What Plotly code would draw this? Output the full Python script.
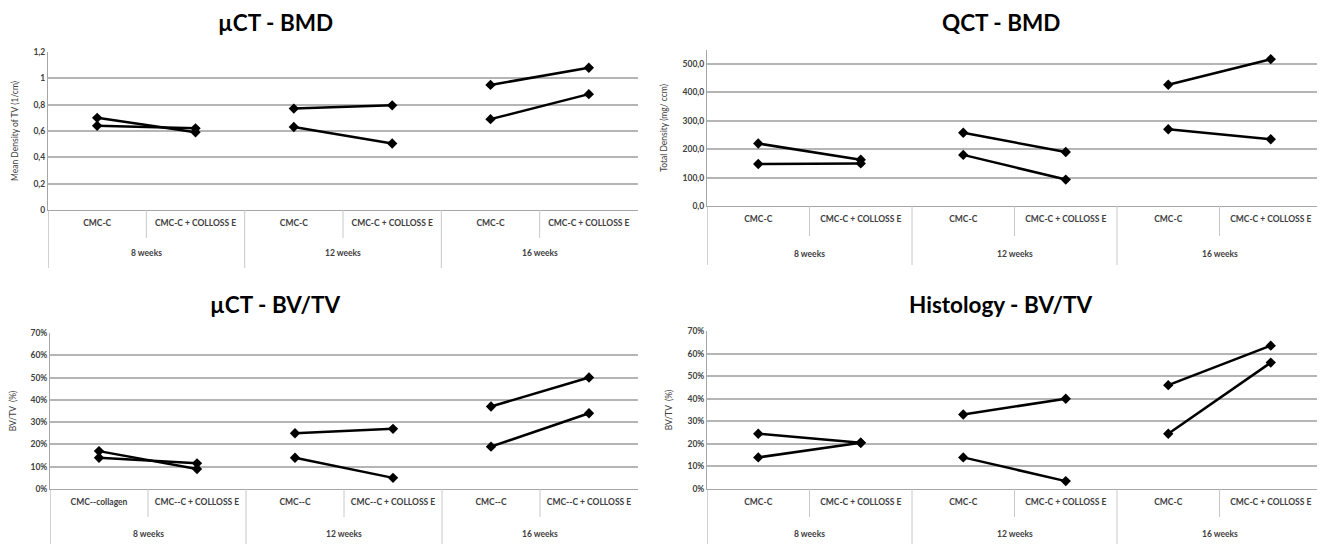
import plotly.graph_objects as go

# ---------------- data ----------------
groups = ["8 weeks", "12 weeks", "16 weeks"]
cats_std = ["CMC-C", "CMC-C + COLLOSS E", "CMC-C", "CMC-C + COLLOSS E", "CMC-C", "CMC-C + COLLOSS E"]
cats_uct_bvtv = ["CMC--collagen", "CMC--C + COLLOSS E", "CMC--C", "CMC--C + COLLOSS E", "CMC--C", "CMC--C + COLLOSS E"]

uct_bmd_a = [0.70, 0.59, 0.77, 0.795, 0.95, 1.08]
uct_bmd_b = [0.64, 0.62, 0.63, 0.505, 0.69, 0.88]
qct_bmd_a = [220, 163, 258, 190, 427, 517]
qct_bmd_b = [148, 150, 180, 93, 270, 235]
uct_bvtv_a = [0.17, 0.09, 0.25, 0.27, 0.37, 0.50]
uct_bvtv_b = [0.14, 0.115, 0.14, 0.05, 0.19, 0.34]
hist_bvtv_a = [0.245, 0.205, 0.33, 0.40, 0.46, 0.635]
hist_bvtv_b = [0.14, 0.205, 0.14, 0.035, 0.245, 0.56]

titles = ["µCT - BMD", "QCT - BMD", "µCT - BV/TV", "Histology - BV/TV"]
ytitles = ["Mean Density of TV (1/cm)", "Total Density (mg/ ccm)", "BV/TV  (%)", "BV/TV  (%)"]

# ---------------- layout helpers ----------------
# page body has an 8px default margin, so work in window pixels and shift
OFF = 8
W, H = 1325 - OFF, 544 - OFF
def px(x):
    return (x - OFF) / W
def py(y):
    return 1 - (y - OFF) / H

panels = [
    dict(series=[uct_bmd_a, uct_bmd_b], cats=cats_std, x0=48, x1=638, ytop=52, ybot=210,
         yrange=[0, 1.2], dtick=0.2, fmt="", title_x=275, title_y=22, inner_end=238, grp_y=253, bottom=268),
    dict(series=[qct_bmd_a, qct_bmd_b], cats=cats_std, x0=707, x1=1322, ytop=49.8, ybot=206,
         yrange=[0, 550], dtick=100, fmt=".1f", title_x=1001, title_y=22, inner_end=236, grp_y=254, bottom=265),
    dict(series=[uct_bvtv_a, uct_bvtv_b], cats=cats_uct_bvtv, x0=50, x1=638, ytop=333, ybot=489,
         yrange=[0, 0.7], dtick=0.1, fmt=".0%", title_x=275, title_y=304, inner_end=517, grp_y=534, bottom=544),
    dict(series=[hist_bvtv_a, hist_bvtv_b], cats=cats_std, x0=707, x1=1322, ytop=331, ybot=489,
         yrange=[0, 0.7], dtick=0.1, fmt=".0%", title_x=1000, title_y=304, inner_end=517, grp_y=534, bottom=544),
]

GRID = "#b5b5b5"
AXIS = "#a6a6a6"
TXT = "#404040"
FONT = "Lato"

fig = go.Figure()
shapes = []
annotations = []
layout_axes = {}

for i, p in enumerate(panels):
    n = i + 1
    xa = "x" if n == 1 else f"x{n}"
    ya = "y" if n == 1 else f"y{n}"
    xkey = "xaxis" if n == 1 else f"xaxis{n}"
    ykey = "yaxis" if n == 1 else f"yaxis{n}"
    ncat = len(p["cats"])
    xs = list(range(1, ncat + 1))

    for s in p["series"]:
        for g in range(len(groups)):
            fig.add_trace(go.Scatter(
                x=xs[2 * g:2 * g + 2], y=s[2 * g:2 * g + 2],
                mode="lines+markers", xaxis=xa, yaxis=ya, showlegend=False,
                line=dict(color="black", width=2.5),
                marker=dict(symbol="diamond", size=8, color="black"),
                hoverinfo="x+y"))

    layout_axes[xkey] = dict(
        domain=[px(p["x0"]), px(p["x1"])], anchor=ya, range=[0.5, ncat + 0.5],
        tickmode="array", tickvals=xs, ticktext=p["cats"], ticks="",
        showgrid=False, zeroline=False, showline=True, linecolor=AXIS, linewidth=1,
        tickfont=dict(family=FONT, size=8.5, color=TXT, weight="bold"),
        ticklabelstandoff=5, automargin=False, fixedrange=True)
    layout_axes[ykey] = dict(
        domain=[py(p["ybot"]), py(p["ytop"])], anchor=xa, range=p["yrange"],
        dtick=p["dtick"], tick0=0, tickformat=p["fmt"], ticks="",
        showgrid=True, gridcolor=GRID, gridwidth=1.5, zeroline=False,
        showline=True, linecolor=AXIS, linewidth=1,
        tickfont=dict(family=FONT, size=8.5, color=TXT, weight="bold"),
        title=dict(text=ytitles[i], font=dict(family=FONT, size=8.5, color=TXT), standoff=13),
        automargin=False, fixedrange=True)

    # category dividers (Excel style multi-level axis)
    for k in range(1, ncat):
        bound = k + 0.5
        is_group = (k % 2 == 0)
        shapes.append(dict(type="line", xref=xa, yref="paper", x0=bound, x1=bound,
                           y0=py(p["ybot"]), y1=py(p["bottom"] if is_group else p["inner_end"]),
                           line=dict(color="#c8c8c8", width=1)))
    # left axis extension
    shapes.append(dict(type="line", xref=xa, yref="paper", x0=0.5, x1=0.5,
                       y0=py(p["ybot"]), y1=py(p["bottom"]), line=dict(color=AXIS, width=1)))
    # group labels
    for g, gname in enumerate(groups):
        annotations.append(dict(text=gname, xref=xa, yref="paper", x=2 * g + 1.5, y=py(p["grp_y"]),
                                showarrow=False, xanchor="center", yanchor="middle",
                                font=dict(family=FONT, size=8.5, color=TXT, weight="bold")))
    # panel title
    annotations.append(dict(text=titles[i], xref="paper", yref="paper",
                            x=px(p["title_x"]), y=py(p["title_y"]), showarrow=False,
                            xanchor="center", yanchor="middle",
                            font=dict(family=FONT, size=22.5, color="black", weight="bold")))

fig.update_layout(
    width=W, height=H, margin=dict(l=0, r=0, t=0, b=0, autoexpand=False),
    paper_bgcolor="white", plot_bgcolor="white",
    separators=",.", shapes=shapes, annotations=annotations,
    font=dict(family=FONT), **layout_axes)

fig.write_html("out.html")
